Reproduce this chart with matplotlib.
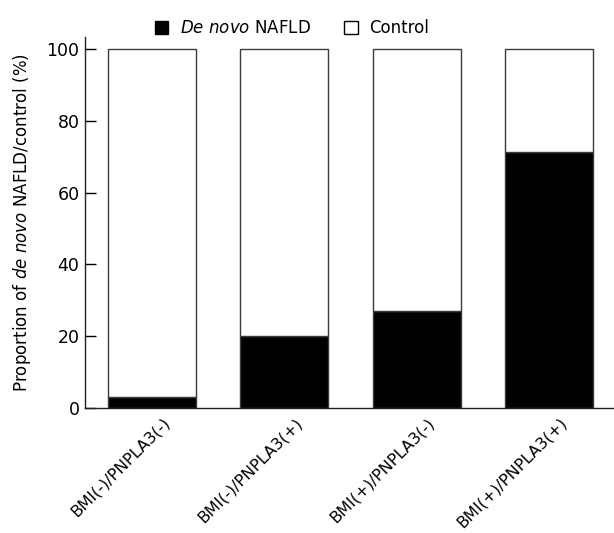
import matplotlib
matplotlib.use("Agg")
import matplotlib.pyplot as plt
from matplotlib.patches import Patch
import matplotlib.transforms as mtransforms
import numpy as np

categories = ["BMI(-)/PNPLA3(-)", "BMI(-)/PNPLA3(+)", "BMI(+)/PNPLA3(-)", "BMI(+)/PNPLA3(+)"]
de_novo = [3.0, 20.0, 26.9, 71.4]
control = [100 - v for v in de_novo]
yticks = [0, 20, 40, 60, 80, 100]

plt.rcParams['font.family'] = ['DejaVu Sans']
plt.rcParams['mathtext.fontset'] = 'dejavusans'
FS = 12

fig = plt.figure(figsize=(6.14, 5.33), dpi=100)
ax = fig.add_axes([85/614, 1 - 408/533, 1 - 85/614, (408 - 37)/533])

x = np.arange(len(categories))
w = 0.665
edge = '#3a3a3a'
ax.bar(x, de_novo, width=w, color='black', edgecolor=edge, linewidth=1.0)
ax.bar(x, control, bottom=de_novo, width=w, color='white', edgecolor=edge, linewidth=1.0)

ax.set_xlim(-0.506, 3.49)
ax.set_ylim(0, 103.4)
ax.set_yticks(yticks)
ax.tick_params(axis='y', direction='in', length=8, width=1, labelsize=12.5, pad=4)
ax.set_xticks(x)
ax.set_xticklabels(categories, rotation=45, ha='right', va='top', rotation_mode='anchor', fontsize=11.5)
ax.tick_params(axis='x', length=0, pad=5)
offset = mtransforms.ScaledTranslation(10/100, 0, fig.dpi_scale_trans)
for lbl in ax.get_xticklabels():
    lbl.set_transform(lbl.get_transform() + offset)
for s in ['top', 'right']:
    ax.spines[s].set_visible(False)
for s in ['left', 'bottom']:
    ax.spines[s].set_linewidth(1.0)
    ax.spines[s].set_color('#222222')

ax.set_ylabel(r"Proportion of $\mathit{de\ novo}$ NAFLD/control (%)", fontsize=FS, labelpad=10)

handles = [Patch(facecolor='black', edgecolor='black'), Patch(facecolor='white', edgecolor='black')]
fig.legend(handles, [r"$\mathit{De\ novo}$ NAFLD", "Control"], loc='center', bbox_to_anchor=(292/614, 1 - 28/533),
           ncol=2, frameon=False, fontsize=FS, handlelength=0.8, handleheight=0.8, handletextpad=0.7, columnspacing=2.0)

fig.savefig("out.png", dpi=100)
